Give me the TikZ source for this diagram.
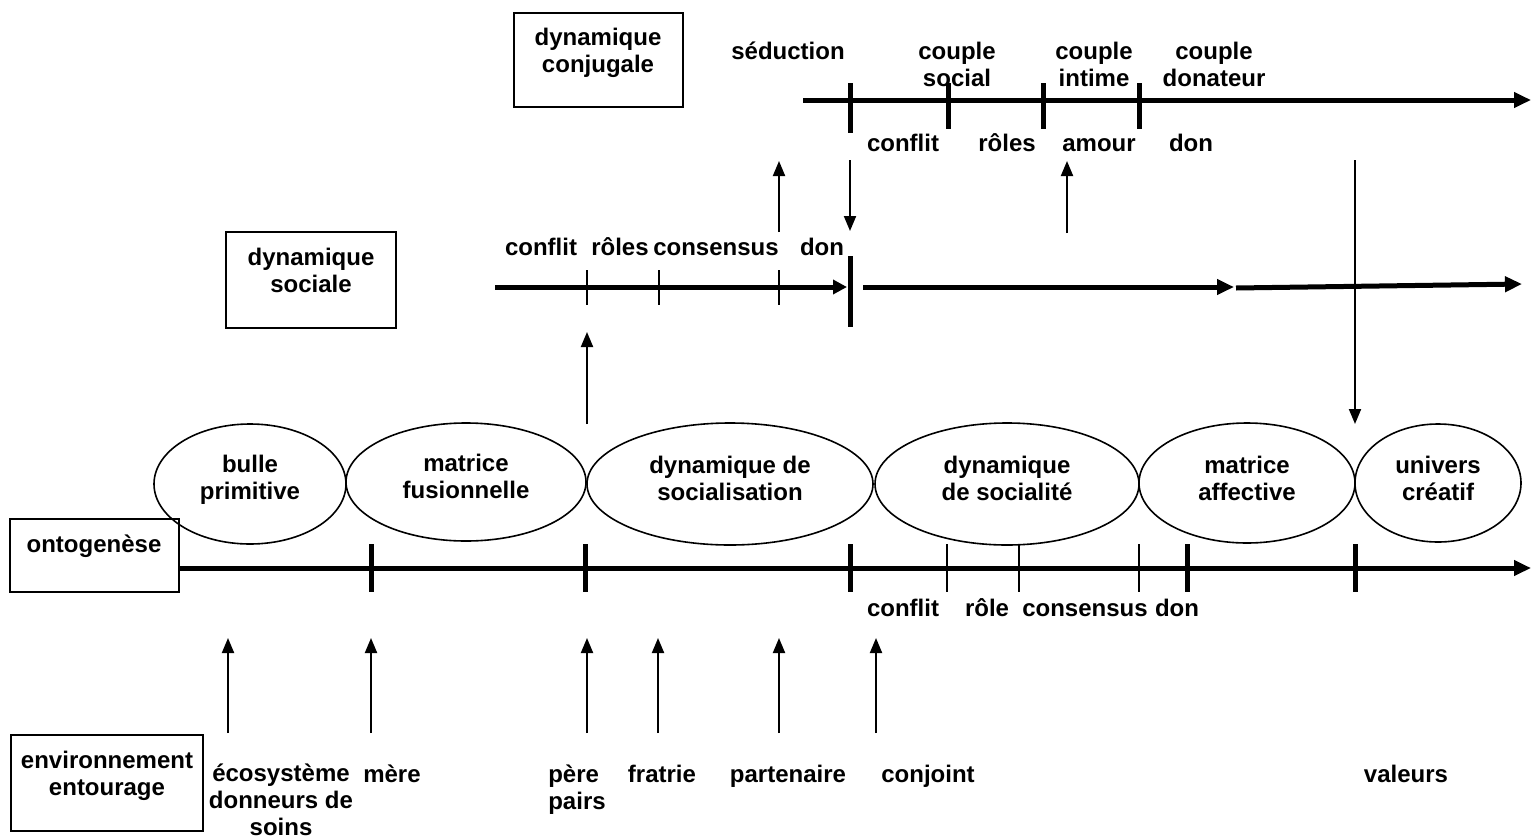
\documentclass[tikz,border=0pt]{standalone}
\usepackage{fontspec}
\setmainfont{Liberation Sans}
\usetikzlibrary{arrows.meta}
\newlength{\du}
\setlength{\du}{1pt}
\tikzset{
  texte/.style={font=\fontsize{24}{27}\selectfont\bfseries, inner sep=0pt, align=center},
  cadre/.style={line width=2\du},
  bulle/.style={line width=1.6\du},
  axe/.style={line width=5\du, -{Triangle[length=17pt,width=15pt]}},
  gros/.style={line width=5\du},
  fin/.style={line width=1.6\du},
  fleche/.style={line width=2\du, -{Triangle[length=15pt,width=12pt]}}
}
\begin{document}
\begin{tikzpicture}
\pgftransformxscale{1.000000}
\pgftransformyscale{-1.000000}
\useasboundingbox (0\du,0\du) rectangle (1531\du,838\du);
% cadres
\draw[cadre] (514\du,13\du) rectangle (683\du,107\du);
\node[texte] (tconjugale) at (598\du,53\du){dynamique\\conjugale};
\draw[cadre] (226\du,232\du) rectangle (396\du,328\du);
\node[texte] (tsociale) at (311\du,270\du){dynamique\\sociale};
\draw[cadre] (10\du,519\du) rectangle (179\du,592\du);
\node[texte,anchor=base] (tonto) at (94\du,552\du){ontogenèse};
\draw[cadre] (11\du,735\du) rectangle (203\du,831\du);
\node[texte] (tenv) at (107\du,776\du){environnement\\entourage};
% dynamique conjugale
\coordinate (conjdebut) at (803\du,100\du);
\coordinate (conjfin) at (1531\du,100\du);
\draw[axe] (conjdebut)--(conjfin);
\draw[gros] (850\du,83\du)--(850\du,133\du);
\draw[gros] (948\du,83\du)--(948\du,129\du);
\draw[gros] (1043\du,83\du)--(1043\du,129\du);
\draw[gros] (1139\du,83\du)--(1139\du,129\du);
\node[texte,anchor=base] (seduction) at (788\du,59\du){séduction};
\node[texte] (csocial) at (957\du,64\du){couple\\social};
\node[texte] (cintime) at (1094\du,64\du){couple\\intime};
\node[texte] (cdonateur) at (1214\du,64\du){couple\\donateur};
\node[texte,anchor=base] (cconflit) at (903\du,151\du){conflit};
\node[texte,anchor=base] (croles) at (1007\du,151\du){rôles};
\node[texte,anchor=base] (camour) at (1099\du,151\du){amour};
\node[texte,anchor=base] (cdon) at (1191\du,151\du){don};
% dynamique sociale
\coordinate (socdebut) at (495\du,287\du);
\coordinate (socdon) at (847\du,287\du);
\coordinate (socsuite) at (863\du,287\du);
\coordinate (socmilieu) at (1234\du,287\du);
\coordinate (socreprise) at (1236\du,288\du);
\coordinate (socfin) at (1522\du,284\du);
\draw[axe,-{Triangle[length=14pt,width=14pt]}] (socdebut)--(socdon);
\draw[axe] (socsuite)--(socmilieu);
\draw[axe] (socreprise)--(socfin);
\draw[gros] (850\du,256\du)--(850\du,327\du);
\draw[fin] (587\du,270\du)--(587\du,305\du);
\draw[fin] (659\du,270\du)--(659\du,305\du);
\draw[fin] (779\du,270\du)--(779\du,305\du);
\node[texte,anchor=base] (sconflit) at (541\du,255\du){conflit};
\node[texte,anchor=base] (sroles) at (620\du,255\du){rôles};
\node[texte,anchor=base] (sconsensus) at (716\du,255\du){consensus};
\node[texte,anchor=base] (sdon) at (822\du,255\du){don};
% fleches entre les niveaux
\coordinate (seducbas) at (779\du,232\du);
\coordinate (seduchaut) at (779\du,161\du);
\draw[fleche] (seducbas)--(seduchaut);
\coordinate (donhaut) at (850\du,160\du);
\coordinate (donbas) at (850\du,231\du);
\draw[fleche] (donhaut)--(donbas);
\coordinate (amourbas) at (1067\du,233\du);
\coordinate (amourhaut) at (1067\du,161\du);
\draw[fleche] (amourbas)--(amourhaut);
\coordinate (valeurhaut) at (1355\du,160\du);
\coordinate (valeurbas) at (1355\du,424\du);
\draw[fleche] (valeurhaut)--(valeurbas);
\coordinate (socialbas) at (587\du,424\du);
\coordinate (socialhaut) at (587\du,332\du);
\draw[fleche] (socialbas)--(socialhaut);
% bulles
\draw[bulle] (250\du,484\du) ellipse [x radius=96\du, y radius=60\du];
\node[texte] (bprimitive) at (250\du,480\du){bulle\\primitive};
\draw[bulle] (466\du,482\du) ellipse [x radius=120\du, y radius=59\du];
\node[texte] (bfusion) at (466\du,476\du){matrice\\fusionnelle};
\draw[bulle] (730\du,484\du) ellipse [x radius=143\du, y radius=61\du];
\node[texte] (bsocialisation) at (730\du,478\du){dynamique de\\socialisation};
\draw[bulle] (1007\du,484\du) ellipse [x radius=132\du, y radius=61\du];
\node[texte] (bsocialite) at (1007\du,478\du){dynamique\\de socialité};
\draw[bulle] (1247\du,483\du) ellipse [x radius=108\du, y radius=60\du];
\node[texte] (baffective) at (1247\du,478\du){matrice\\affective};
\draw[bulle] (1438\du,483\du) ellipse [x radius=83\du, y radius=59\du];
\node[texte] (bcreatif) at (1438\du,478\du){univers\\créatif};
% ontogenese
\coordinate (ontodebut) at (179\du,568\du);
\coordinate (ontofin) at (1531\du,568\du);
\draw[axe] (ontodebut)--(ontofin);
\draw[gros] (371\du,544\du)--(371\du,592\du);
\draw[gros] (585\du,544\du)--(585\du,592\du);
\draw[gros] (850\du,544\du)--(850\du,592\du);
\draw[gros] (1187\du,544\du)--(1187\du,592\du);
\draw[gros] (1355\du,544\du)--(1355\du,592\du);
\draw[fin] (947\du,544\du)--(947\du,592\du);
\draw[fin] (1019\du,544\du)--(1019\du,592\du);
\draw[fin] (1139\du,544\du)--(1139\du,592\du);
\node[texte,anchor=base] (oconflit) at (903\du,616\du){conflit};
\node[texte,anchor=base] (orole) at (987\du,616\du){rôle};
\node[texte,anchor=base] (oconsensus) at (1085\du,616\du){consensus};
\node[texte,anchor=base] (odon) at (1177\du,616\du){don};
% environnement
\coordinate (ecobas) at (228\du,733\du);
\coordinate (ecohaut) at (228\du,638\du);
\draw[fleche] (ecobas)--(ecohaut);
\coordinate (merebas) at (371\du,733\du);
\coordinate (merehaut) at (371\du,638\du);
\draw[fleche] (merebas)--(merehaut);
\coordinate (perebas) at (587\du,733\du);
\coordinate (perehaut) at (587\du,638\du);
\draw[fleche] (perebas)--(perehaut);
\coordinate (fratriebas) at (658\du,733\du);
\coordinate (fratriehaut) at (658\du,638\du);
\draw[fleche] (fratriebas)--(fratriehaut);
\coordinate (partbas) at (779\du,733\du);
\coordinate (parthaut) at (779\du,638\du);
\draw[fleche] (partbas)--(parthaut);
\coordinate (conjointbas) at (876\du,733\du);
\coordinate (conjointhaut) at (876\du,638\du);
\draw[fleche] (conjointbas)--(conjointhaut);
\node[texte] (eeco) at (281\du,800\du){écosystème\\donneurs de\\soins};
\node[texte,anchor=base] (emere) at (392\du,782\du){mère};
\node[texte,align=left] (epere) at (577\du,790\du){père\\pairs};
\node[texte,anchor=base] (efratrie) at (662\du,782\du){fratrie};
\node[texte,anchor=base] (epartenaire) at (788\du,782\du){partenaire};
\node[texte,anchor=base] (econjoint) at (928\du,782\du){conjoint};
\node[texte,anchor=base] (evaleurs) at (1406\du,782\du){valeurs};
\end{tikzpicture}
\end{document}
